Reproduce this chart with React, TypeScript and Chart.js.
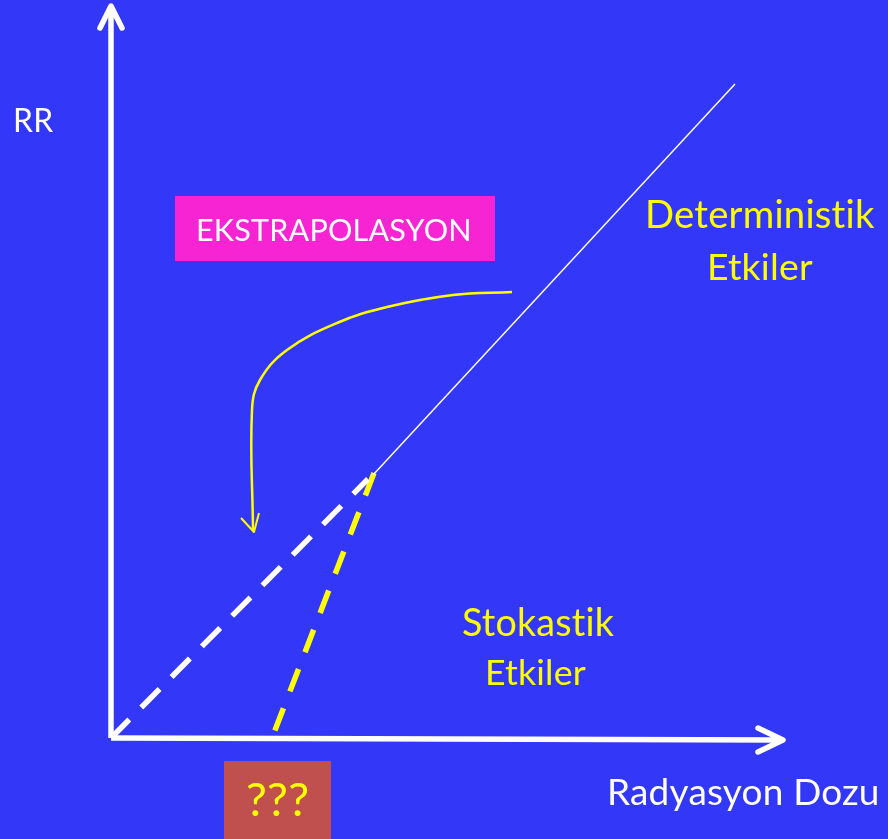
import React, { useEffect, useRef } from "react";
import { Chart, registerables } from "chart.js";

Chart.register(...registerables);

// ---- data (units: dose on x, RR on y; origin at axis corner) ----
const yAxisLine = [{ x: 0, y: 0 }, { x: 0, y: 7.31 }];
const yAxisHead = [{ x: -0.11, y: 7.1 }, { x: 0, y: 7.32 }, { x: 0.11, y: 7.1 }];
const xAxisLine = [{ x: 0, y: 0 }, { x: 6.71, y: -0.02 }];
const xAxisHead = [{ x: 6.47, y: 0.1 }, { x: 6.72, y: -0.02 }, { x: 6.47, y: -0.14 }];
const deterministicLine = [{ x: 2.62, y: 2.63 }, { x: 6.24, y: 6.54 }];
const linearExtrapolation = [{ x: 0, y: 0 }, { x: 2.57, y: 2.59 }];
const thresholdExtrapolation = [{ x: 2.63, y: 2.65 }, { x: 1.61, y: 0 }];
const arrowCurve = [
  { x: 4.01, y: 4.46 },
  { x: 3.42, y: 4.43 },
  { x: 2.76, y: 4.31 },
  { x: 2.26, y: 4.15 },
  { x: 1.76, y: 3.88 },
  { x: 1.49, y: 3.58 },
  { x: 1.41, y: 3.28 },
  { x: 1.42, y: 2.08 },
];
const arrowCurveHead = [{ x: 1.3, y: 2.2 }, { x: 1.43, y: 2.06 }, { x: 1.48, y: 2.25 }];

const yAxisTitle = "RR";
const xAxisTitle = "Radyasyon Dozu";
const deterministicLabel = ["Deterministik", "Etkiler"];
const stochasticLabel = ["Stokastik", "Etkiler"];
const extrapolationLabel = "EKSTRAPOLASYON";
const unknownLabel = "???";

// ---- styles / layout ----
const BG = "#3337F7";
const WHITE = "#FFFFFF";
const YELLOW = "#FFFF00";
const MAGENTA = "#F624D3";
const BRICK = "#C0504D";
const FONT = "Lato, 'Open Sans', sans-serif";

function App() {
  const ref = useRef<HTMLCanvasElement | null>(null);

  useEffect(() => {
    if (!ref.current) return;

    const textPlugin = {
      id: "diagramText",
      beforeDraw(chart: any) {
        const c = chart.ctx;
        c.save();
        c.fillStyle = BG;
        c.fillRect(0, 0, chart.width, chart.height);
        const sx = chart.scales.x;
        const sy = chart.scales.y;
        const X = (v: number) => sx.getPixelForValue(v);
        const Y = (v: number) => sy.getPixelForValue(v);
        // boxes
        c.fillStyle = MAGENTA;
        c.fillRect(X(0.64), Y(5.42), X(3.84) - X(0.64), Y(4.77) - Y(5.42));
        c.fillStyle = BRICK;
        c.fillRect(X(1.13), Y(-0.23), X(2.2) - X(1.13), Y(-1.01) - Y(-0.23));
        c.restore();
      },
      afterDatasetsDraw(chart: any) {
        const c = chart.ctx;
        const sx = chart.scales.x;
        const sy = chart.scales.y;
        const X = (v: number) => sx.getPixelForValue(v);
        const Y = (v: number) => sy.getPixelForValue(v);
        const fit = (text: string, x0: number, x1: number, base: number, color: string) => {
          const w = X(x1) - X(x0);
          c.font = `100px ${FONT}`;
          const m = c.measureText(text).width;
          const size = (100 * w) / m;
          c.font = `${size}px ${FONT}`;
          c.fillStyle = color;
          c.textBaseline = "alphabetic";
          c.textAlign = "left";
          c.fillText(text, X(x0), Y(base));
        };
        c.save();
        // a tiny letter spacing disables the "ti" ligature of Lato
        try { (c as any).letterSpacing = "0.2px"; } catch (e) {}
        fit(yAxisTitle, -0.98, -0.58, 6.06, WHITE);
        fit(xAxisTitle, 4.96, 7.67, -0.67, WHITE);
        fit(deterministicLabel[0], 5.34, 7.62, 5.1, YELLOW);
        fit(deterministicLabel[1], 5.96, 7.01, 4.58, YELLOW);
        fit(stochasticLabel[0], 3.51, 5.02, 1.02, YELLOW);
        fit(stochasticLabel[1], 3.74, 4.74, 0.53, YELLOW);
        fit(extrapolationLabel, 0.85, 3.59, 4.97, WHITE);
        fit(unknownLabel, 1.35, 1.98, -0.78, YELLOW);
        try { (c as any).letterSpacing = "0px"; } catch (e) {}
        c.restore();
      },
    };

    const base = {
      pointRadius: 0,
      fill: false,
      tension: 0,
      borderCapStyle: "butt" as const,
      borderJoinStyle: "round" as const,
    };

    const chart = new Chart(ref.current, {
      type: "line",
      data: {
        datasets: [
          { ...base, data: yAxisLine, borderColor: WHITE, borderWidth: 5.5 },
          { ...base, data: yAxisHead, borderColor: WHITE, borderWidth: 5.5, borderCapStyle: "round" },
          { ...base, data: xAxisLine, borderColor: WHITE, borderWidth: 5.5 },
          { ...base, data: xAxisHead, borderColor: WHITE, borderWidth: 5.5, borderCapStyle: "round" },
          { ...base, data: deterministicLine, borderColor: WHITE, borderWidth: 1.5 },
          { ...base, data: linearExtrapolation, borderColor: WHITE, borderWidth: 5.5, borderDash: [26, 17] },
          { ...base, data: thresholdExtrapolation, borderColor: YELLOW, borderWidth: 5.5, borderDash: [24, 18] },
          { ...base, data: arrowCurve, borderColor: YELLOW, borderWidth: 2.5, tension: 0.4 },
          { ...base, data: arrowCurveHead, borderColor: YELLOW, borderWidth: 2 },
        ] as any,
      },
      options: {
        animation: false,
        responsive: false,
        maintainAspectRatio: false,
        layout: { padding: 0 },
        plugins: { legend: { display: false }, tooltip: { enabled: false } },
        scales: {
          x: { type: "linear", min: -1.11, max: 7.77, display: false },
          y: { type: "linear", min: -1.01, max: 7.38, display: false },
        },
      },
      plugins: [textPlugin],
    });
    return () => chart.destroy();
  }, []);

  return (
    <div style={{ position: "absolute", left: 0, top: 0, width: 888, height: 839, background: BG }}>
      <canvas ref={ref} width={888} height={839} style={{ display: "block" }} />
    </div>
  );
}

export default App;
